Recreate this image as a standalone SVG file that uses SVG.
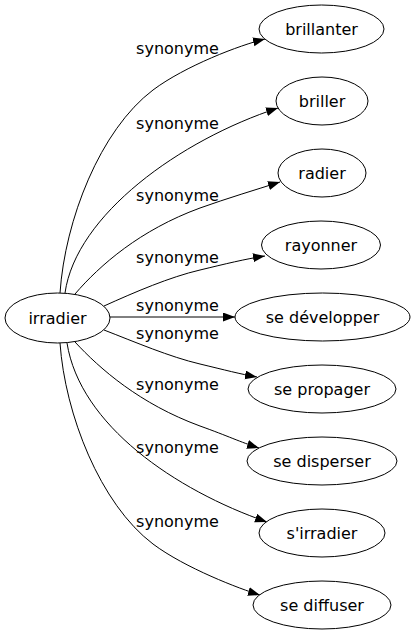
<svg xmlns="http://www.w3.org/2000/svg" width="414" height="635" viewBox="0 0 414 635">
<style>
.node ellipse{fill:#fff;stroke:#000;stroke-width:1}
.node text{font-family:"DejaVu Sans",sans-serif;font-size:16px;fill:#000;text-anchor:middle}
.edges path{fill:none;stroke:#000;stroke-width:1;marker-end:url(#arr)}
.lbl{font-family:"DejaVu Sans",sans-serif;font-size:16px;fill:#000;text-anchor:middle}
</style>
<defs>
<marker id="arr" markerUnits="userSpaceOnUse" markerWidth="14" markerHeight="10" refX="12" refY="4.5" orient="auto">
<path d="M0,0 L12,4.5 L0,9 z" fill="#000"/>
</marker>
</defs>
<rect width="414" height="635" fill="#fff"/>
<g class="edges">
<path d="M60,293 C65,220 100,130 153,90 C185,66 240,45 265,39"/>
<path d="M65,293 C76,215 180,140 278,108"/>
<path d="M75,294 C100,265 140,230 200,208 C228,198 255,190 280,182"/>
<path d="M104,306 C135,292 170,277 200,270 C225,264 245,259 265,256"/>
<path d="M110,317 L235,317"/>
<path d="M104,330 C135,342 170,357 200,364 C225,370 240,374 257,377"/>
<path d="M75,342 C100,369 140,404 200,426 C228,436 240,442 259,448"/>
<path d="M67,343 C80,425 175,490 267,522"/>
<path d="M60,343 C65,414 100,504 153,544 C185,568 240,589 260,595"/>
<text class="lbl" x="177.5" y="54">synonyme</text>
<text class="lbl" x="177.5" y="129">synonyme</text>
<text class="lbl" x="177.5" y="201">synonyme</text>
<text class="lbl" x="177.5" y="263">synonyme</text>
<text class="lbl" x="177.5" y="311">synonyme</text>
<text class="lbl" x="177.5" y="339">synonyme</text>
<text class="lbl" x="177.5" y="390">synonyme</text>
<text class="lbl" x="177.5" y="453">synonyme</text>
<text class="lbl" x="177.5" y="527">synonyme</text>
</g>
<g id="irradier" class="node"><ellipse cx="57.5" cy="318" rx="52.5" ry="25"/><text x="57.5" y="323.5">irradier</text></g>
<g id="brillanter" class="node"><ellipse cx="321.5" cy="29" rx="62.5" ry="24"/><text x="321.5" y="35">brillanter</text></g>
<g id="briller" class="node"><ellipse cx="322" cy="101" rx="46" ry="24"/><text x="322" y="107">briller</text></g>
<g id="radier" class="node"><ellipse cx="322" cy="173" rx="44" ry="24"/><text x="322" y="179">radier</text></g>
<g id="rayonner" class="node"><ellipse cx="321" cy="245" rx="59.5" ry="24"/><text x="321" y="251">rayonner</text></g>
<g id="se-developper" class="node"><ellipse cx="322.5" cy="317" rx="87.5" ry="24"/><text x="322.5" y="323">se développer</text></g>
<g id="se-propager" class="node"><ellipse cx="322" cy="389" rx="74" ry="24"/><text x="322" y="395">se propager</text></g>
<g id="se-disperser" class="node"><ellipse cx="322" cy="461" rx="75" ry="24"/><text x="322" y="467">se disperser</text></g>
<g id="s-irradier" class="node"><ellipse cx="322" cy="533" rx="63" ry="24"/><text x="322" y="539">s'irradier</text></g>
<g id="se-diffuser" class="node"><ellipse cx="322" cy="605" rx="69" ry="24"/><text x="322" y="611">se diffuser</text></g>
</svg>
